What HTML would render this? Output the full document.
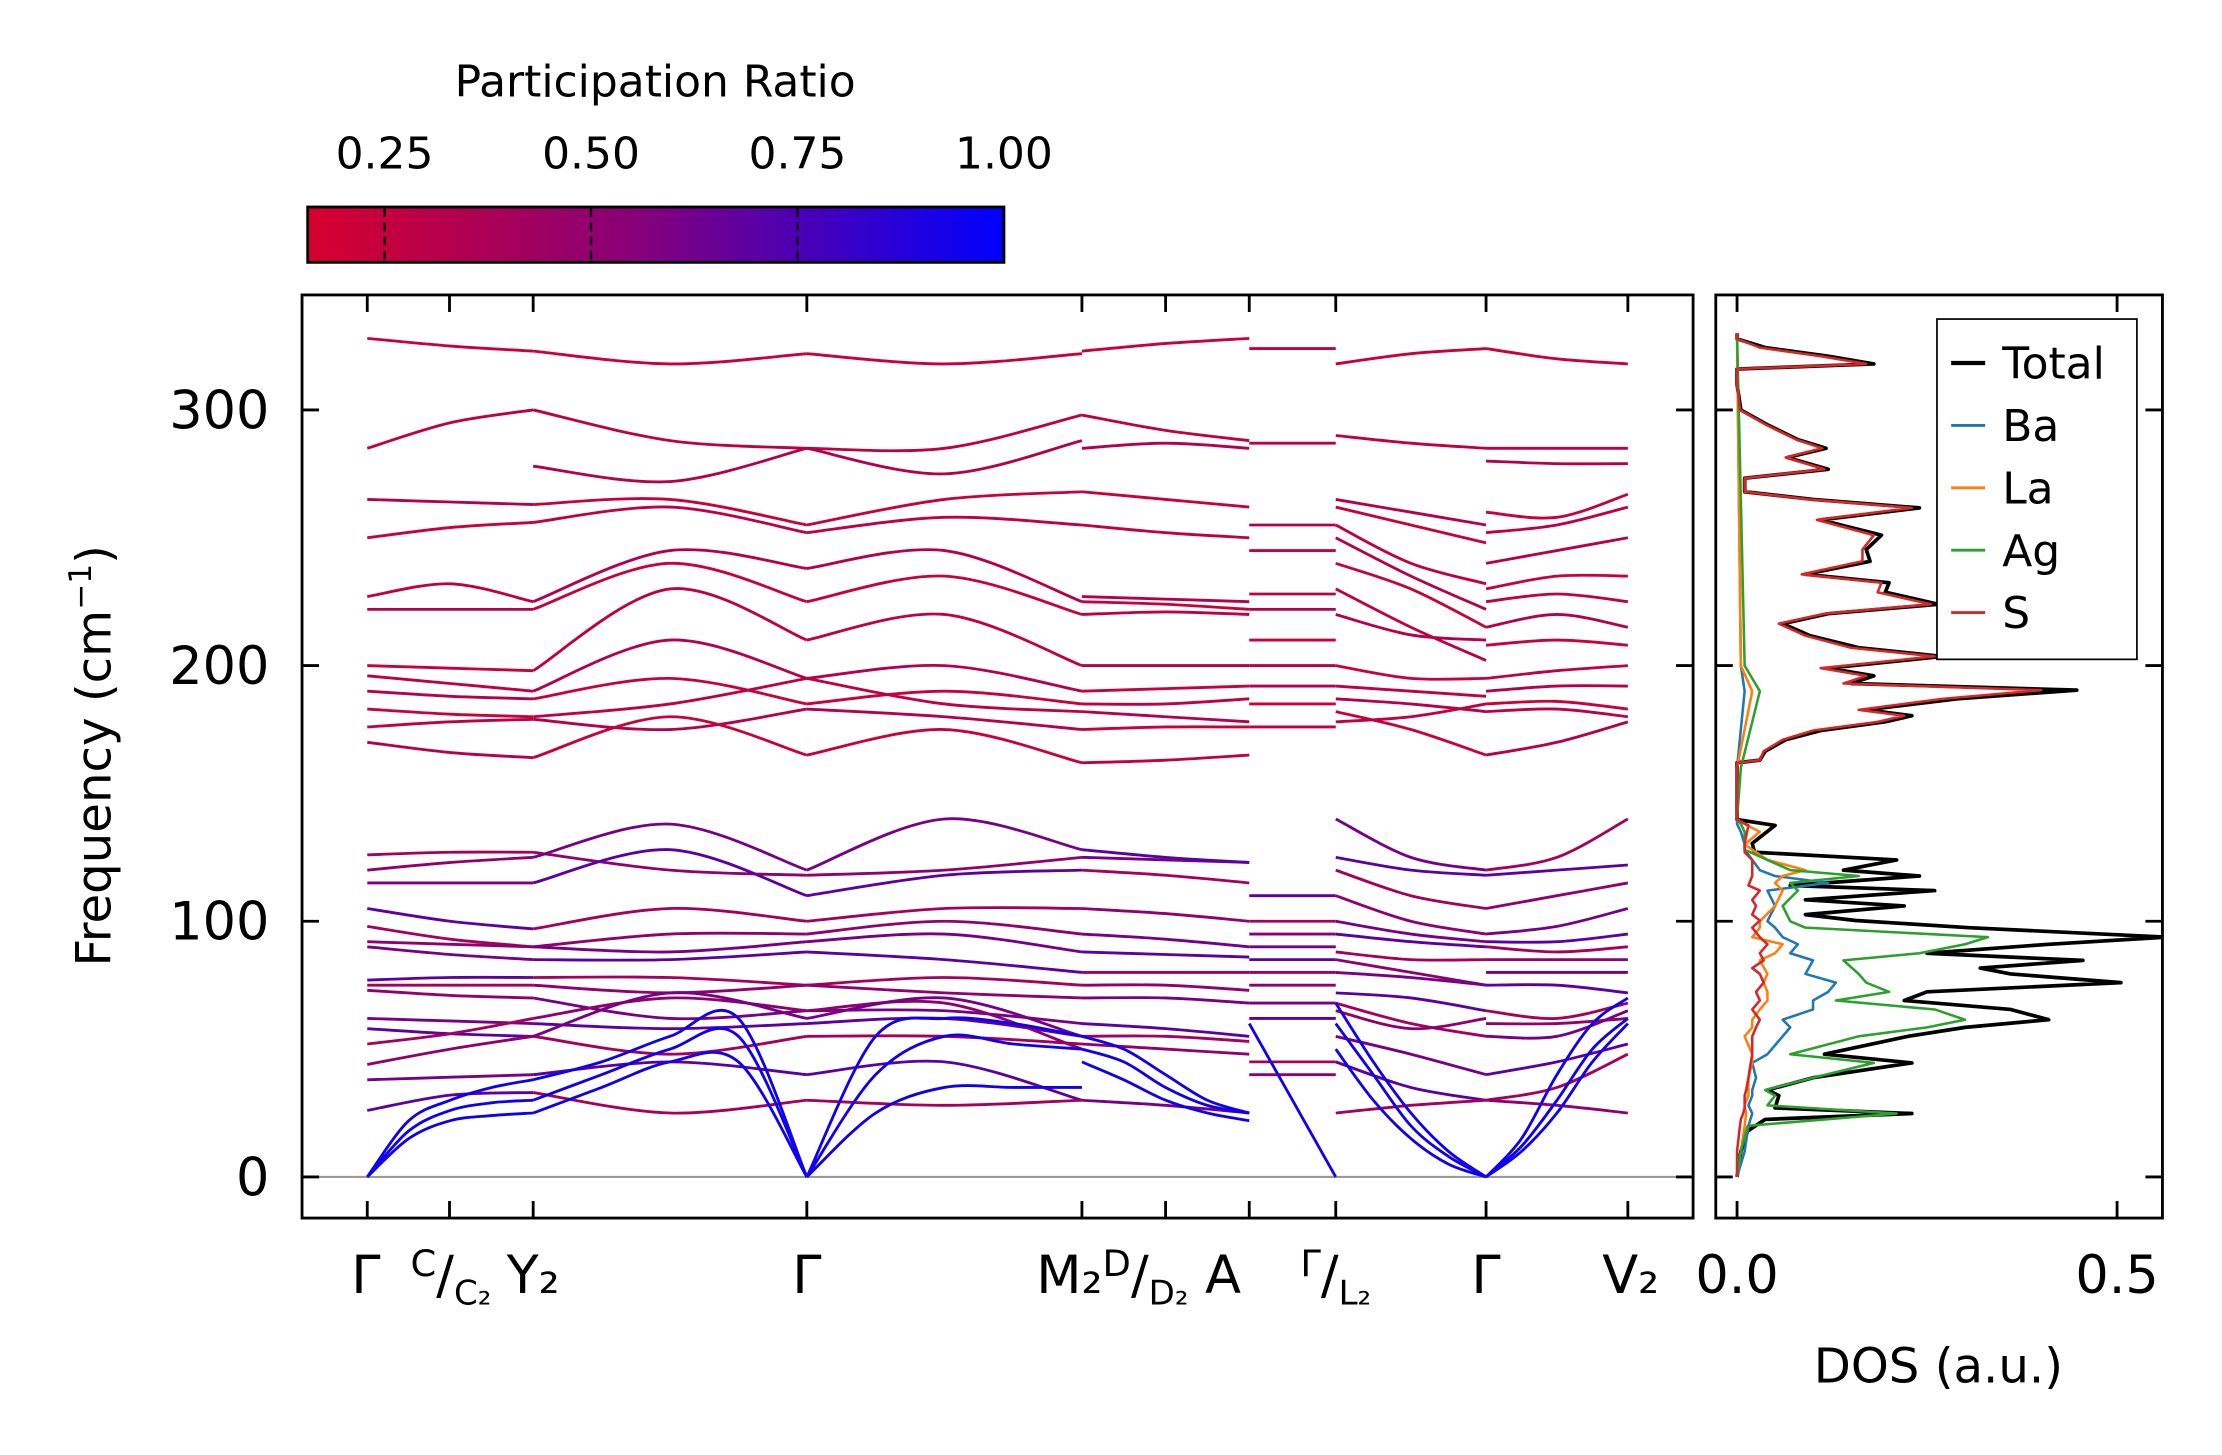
<!DOCTYPE html>
<html><head><meta charset="utf-8"><style>
html,body{margin:0;padding:0;background:#fff}
svg{display:block;font-family:"DejaVu Sans","Liberation Sans",sans-serif}
</style></head><body>
<svg id="fig" width="2222" height="1455" viewBox="0 0 1567 1026.1" xmlns="http://www.w3.org/2000/svg">
<defs>
<linearGradient id="cmap" x1="0" x2="1" y1="0" y2="0">
<stop offset="0" stop-color="rgb(215,0,45)"/>
<stop offset="0.47" stop-color="rgb(135,0,120)"/>
<stop offset="1" stop-color="rgb(0,0,255)"/>
</linearGradient>
<clipPath id="mainclip"><rect x="213" y="208" width="981" height="651"/></clipPath>
<clipPath id="dosclip"><rect x="1210" y="208" width="315" height="651"/></clipPath>
</defs>
<g id="colorbar">
<text x="462" y="68" font-size="31" text-anchor="middle">Participation Ratio</text>
<rect x="217" y="146" width="491" height="39" fill="url(#cmap)" stroke="#000" stroke-width="2"/>
</g>
<g id="main">
<line x1="213" x2="1194" y1="830" y2="830" stroke="#999" stroke-width="1.5"/>
<g id="bands" clip-path="url(#mainclip)"></g>
<rect x="213" y="208" width="981" height="651" fill="none" stroke="#000" stroke-width="2"/>
<text transform="translate(78,533) rotate(-90)" font-size="34" text-anchor="middle">Frequency (cm<tspan font-size="22" dy="-14">−1</tspan><tspan dy="14">)</tspan></text>
</g>
<g id="dos">
<g id="doslines" clip-path="url(#dosclip)"></g>
<rect x="1210" y="208" width="315" height="651" fill="none" stroke="#000" stroke-width="2"/>
<text x="1367" y="975" font-size="34" text-anchor="middle">DOS (a.u.)</text>
<g>
<rect x="1366" y="225" width="141" height="240" fill="#fff" stroke="#000" stroke-width="1.2"/>
</g>
</g>
<g id="ticks"></g>
</svg>
<script>
const NS='http://www.w3.org/2000/svg';
// ---- band structure data ----
const kLabels=['Γ','C/C2','Y2','Γ','M2|D/D2','A','Γ/L2','Γ','V2'];
const kTickPos=[0,58,117,310,504,563,622,683,789,889];
const segStart=[0,117,310,504,622,683,789];
const segEnd=[117,310,504,622,683,789,889];
const yTicks=[0,100,200,300];
const bandsGY=[[328,325,323],[285,295,300],[265,264,263],[250,254,256],[227,232,225],[222,222,222],[200,199,198],[196,193,190],[190,188,187],[183,181,180],[176,178,179],[170,166,164],[126,127,127],[120,123,125],[115,115,115],[105,100,97],[98,93,90],[92,91,90],[90,87,85],[77,78,78],[75,75,75],[73,71,70],[62,61,60],[58,56,55],[52,56,62],[44,50,55],[38,39,40],[26,32,33]];
const acGY=[[0,22,30,35,38],[0,18,26,29,30],[0,15,22,24,25]];
const bandsYG=[[323,318,322],[300,288,285],[278,272,285],[263,265,255],[256,262,252],[225,245,238],[222,240,225],[198,230,210],[190,210,195],[187,195,185],[180,185,195],[179,175,183],[164,180,165],[127,120,118],[125,138,120],[115,128,110],[97,105,100],[90,95,95],[90,88,92],[85,85,88],[78,78,75],[75,72,75],[70,62,65],[60,58,60],[55,48,55],[62,70,65],[55,72,62],[40,45,40],[33,25,30]];
const acYG=[[38,45,55,62,0],[30,40,50,55,0],[25,35,45,45,0]];
const bandsGM=[[322,318,322],[285,285,298],[285,275,288],[255,265,268],[252,258,255],[238,245,225],[225,235,220],[210,220,200],[195,200,190],[185,190,185],[195,185,182],[183,180,175],[165,175,162],[118,120,125],[120,140,128],[110,118,120],[100,105,105],[95,100,95],[92,95,88],[88,85,80],[75,78,75],[75,72,70],[65,65,60],[60,62,55],[55,55,52],[65,68,50],[62,70,55],[40,45,30],[30,28,30]];
const acGM=[[0,55,62,60,55],[0,40,55,52,50],[0,25,35,35,35]];
const bandsDA=[[323,326,328],[298,292,288],[285,287,285],[268,265,262],[255,252,250],[227,226,225],[225,224,222],[220,221,220],[200,200,200],[190,191,192],[185,185,187],[182,180,178],[175,176,176],[162,163,165],[125,124,123],[128,125,123],[120,118,115],[105,103,100],[95,93,90],[88,87,86],[80,80,80],[75,75,73],[70,70,68],[60,58,55],[55,55,53],[52,50,48],[30,28,25]];
const acDA=[[50,45,35,28,25],[45,38,30,25,22],[55,50,40,30,25]];
const bandsAL=[[324,324,324],[287,287,287],[255,255,255],[245,245,245],[228,228,228],[222,222,222],[210,210,210],[200,200,200],[192,192,192],[185,185,185],[176,176,176],[110,110,110],[100,100,100],[95,95,95],[90,90,90],[85,85,85],[80,80,80],[75,75,75],[68,68,68],[62,62,62],[45,45,45],[40,40,40]];
const acAL=[[60,45,30,15,0]];
const bandsLG=[[318,322,324],[290,287,285],[265,260,255],[262,255,248],[255,240,232],[250,235,222],[240,230,215],[230,215,202],[220,212,210],[200,195,195],[192,190,188],[187,185,182],[182,175,165],[178,180,185],[140,125,120],[125,120,118],[120,110,105],[110,100,95],[100,95,92],[95,92,90],[88,85,85],[85,80,75],[80,78,75],[72,70,65],[68,60,55],[65,58,62],[55,48,40],[45,35,30],[25,28,30]];
const acLG=[[68,45,25,10,0],[60,40,20,8,0],[50,30,15,5,0]];
const bandsGV=[[324,320,318],[285,285,285],[280,279,279],[260,258,267],[252,255,262],[240,245,250],[230,235,235],[225,228,225],[215,220,215],[208,210,208],[195,198,200],[190,192,192],[185,186,183],[182,183,180],[165,170,178],[118,120,122],[120,125,140],[105,110,115],[95,98,105],[92,92,95],[90,88,90],[85,85,85],[80,80,80],[75,75,72],[65,62,68],[60,60,62],[55,55,65],[40,45,52],[30,35,48],[30,28,25]];
const acGV=[[0,15,40,60,70],[0,12,30,50,62],[0,10,25,45,60]];
const optSets=[bandsGY,bandsYG,bandsGM,bandsDA,bandsAL,bandsLG,bandsGV];
const acSets=[acGY,acYG,acGM,acDA,acAL,acLG,acGV];
// ---- DOS data ----
const dosFreqFine=[0,10,18,22.5,24.8,27,31.8,34,38.8,44.6,48,55,58.5,61.5,65.5,69,72.4,76,79.4,81.7,84.7,87.5,91,93.8,97.5,100.3,102.6,106,108.4,112,114,117.7,120,124,127,130.5,137.5,139.8,150,162,163,166.5,171,174.6,178,180.4,182.7,187,190.4,193,196,199,203.6,207,211.7,216.4,220.3,224,228.7,232.4,235.7,240.8,245.4,251,257,261.7,265,268,273.3,276.8,281.4,285,288.4,294.2,300,310,316,318,321,324.4,327.8,330];
const dosTotal=[0,0.005,0.014,0.037,0.23,0.05,0.055,0.04,0.1,0.23,0.115,0.225,0.3,0.41,0.36,0.22,0.25,0.505,0.36,0.32,0.455,0.25,0.41,0.565,0.305,0.156,0.09,0.22,0.09,0.26,0.07,0.24,0.14,0.21,0.023,0.02,0.05,0,0,0,0.03,0.037,0.064,0.11,0.195,0.23,0.17,0.29,0.447,0.15,0.18,0.12,0.27,0.16,0.096,0.06,0.12,0.265,0.195,0.2,0.09,0.175,0.17,0.19,0.11,0.24,0.1,0.01,0.01,0.12,0.066,0.117,0.08,0.04,0.005,0,0,0.18,0.12,0.037,0,0];
const dosS=[0,0,0.003,0.005,0.008,0.01,0.01,0.012,0.015,0.018,0.02,0.02,0.025,0.03,0.02,0.03,0.025,0.035,0.03,0.02,0.035,0.03,0.04,0.03,0.02,0.03,0.02,0.025,0.02,0.03,0.015,0.02,0.02,0.02,0.01,0.01,0.015,0,0,0,0.03,0.035,0.06,0.1,0.185,0.22,0.16,0.27,0.4,0.14,0.17,0.11,0.26,0.15,0.09,0.055,0.115,0.255,0.185,0.19,0.085,0.165,0.165,0.18,0.105,0.23,0.095,0.01,0.01,0.115,0.064,0.112,0.078,0.038,0.004,0,0,0.17,0.11,0.03,0,0];
const dosFreqLow=[0,10,20,24.8,28,31.8,34,38.8,44.6,48,55,58.5,61.5,65.5,69,72.4,76,79.4,84.7,87.5,91,93.8,97.5,100,106,112,115,117.7,120,124,128,130,135,138,140,160,190,200,330];
const dosBa=[0,0.01,0.015,0.02,0.015,0.02,0.02,0.025,0.02,0.04,0.06,0.07,0.06,0.1,0.1,0.12,0.13,0.09,0.1,0.07,0.08,0.06,0.05,0.04,0.05,0.04,0.12,0.05,0.03,0.02,0.01,0.01,0.005,0,0,0,0.01,0.005,0];
const dosLa=[0,0.005,0.01,0.012,0.01,0.015,0.015,0.015,0.02,0.02,0.01,0.02,0.02,0.03,0.04,0.04,0.035,0.04,0.03,0.05,0.06,0.02,0.03,0.03,0.05,0.06,0.05,0.06,0.09,0.04,0.02,0.01,0.03,0.01,0,0,0.02,0.005,0];
const dosAg=[0,0.005,0.014,0.21,0.04,0.05,0.037,0.1,0.18,0.07,0.16,0.25,0.3,0.26,0.13,0.2,0.17,0.16,0.14,0.24,0.3,0.33,0.09,0.07,0.06,0.08,0.07,0.16,0.07,0.04,0.01,0.01,0.01,0.005,0,0.005,0.03,0.01,0];
const dosNames=['Total','Ba','La','Ag','S'];
const dosColors=['#000','#1f77b4','#ff7f0e','#2ca02c','#d62728'];
// ---- colorbar ----
const cbTicks=[0.25,0.5,0.75,1.0];
const cbMin=0.157,cbMax=1.0;

const kx=k=>259+k;
const fy=f=>830-f*1.803;
const dx=v=>1225+v*536;
const cbx=v=>217+(v-cbMin)/(cbMax-cbMin)*491;
function cmap(t){
  const s=[[0.157,[215,0,45]],[0.55,[135,0,120]],[1.0,[0,0,255]]];
  t=Math.max(0.157,Math.min(1,t));
  for(let i=0;i<s.length-1;i++){if(t<=s[i+1][0]){const a=(t-s[i][0])/(s[i+1][0]-s[i][0]);const c=s[i][1].map((v,j)=>Math.round(v+(s[i+1][1][j]-v)*a));return `rgb(${c})`;}}
  return 'rgb(0,0,255)';
}
function smoothPath(pts){
  let d=`M${pts[0][0]},${pts[0][1]}`;
  for(let i=0;i<pts.length-1;i++){
    const p0=pts[Math.max(0,i-1)],p1=pts[i],p2=pts[i+1],p3=pts[Math.min(pts.length-1,i+2)];
    const c1=[p1[0]+(p2[0]-p0[0])/6,p1[1]+(p2[1]-p0[1])/6];
    const c2=[p2[0]-(p3[0]-p1[0])/6,p2[1]-(p3[1]-p1[1])/6];
    d+=` C${c1[0]},${c1[1]} ${c2[0]},${c2[1]} ${p2[0]},${p2[1]}`;
  }
  return d;
}
function bandPts(x0,x1,vals){const n=vals.length-1;return vals.map((v,i)=>[x0+(x1-x0)*i/n,fy(v)]);}
function mk(tag,attrs,parent){const e=document.createElementNS(NS,tag);for(const k in attrs)e.setAttribute(k,attrs[k]);parent.appendChild(e);return e;}
const bandsG=document.getElementById('bands');
optSets.forEach((set,si)=>{
  const x0=kx(segStart[si]),x1=kx(segEnd[si]);
  set.forEach((b,bi)=>{
    const pr=b[1]>150?0.22+0.05*(bi%3):0.4+0.1*(bi%4);
    const p=mk('path',{d:smoothPath(bandPts(x0,x1,b)),fill:'none',stroke:cmap(pr),'stroke-width':2},bandsG);
    
    
  });
  acSets[si].forEach(b=>{
    const p=mk('path',{d:smoothPath(bandPts(x0,x1,b)),fill:'none',stroke:cmap(0.95),'stroke-width':2},bandsG);
    
    
  });
});
const dosG=document.getElementById('doslines');
const series=[[dosFreqFine,dosTotal],[dosFreqLow,dosBa],[dosFreqLow,dosLa],[dosFreqLow,dosAg],[dosFreqFine,dosS]];
[0,1,2,3,4].forEach(i=>{
  const [fr,vals]=series[i];
  const pts=fr.map((f,j)=>`${dx(vals[j])},${fy(f)}`).join(' ');
  const pl=mk('polyline',{points:pts,fill:'none',stroke:dosColors[i],'stroke-width':i===0?2.6:1.8,'stroke-linejoin':'round'},dosG);
  
  
});
const svg=document.getElementById('fig');
dosNames.forEach((n,i)=>{
  const y=256+i*44;
  const g=mk('g',{},svg);
  
  
  mk('line',{x1:1376,x2:1400,y1:y,y2:y,stroke:dosColors[i],'stroke-width':i===0?3:2},g);
  const t=mk('text',{x:1412,y:y+11,'font-size':31},g);t.textContent=n;
});
const tk=document.getElementById('ticks');
yTicks.forEach(v=>{
  const y=fy(v);
  [[213,225],[1194,1182],[1210,1222],[1525,1513]].forEach(([a,b])=>mk('line',{x1:a,x2:b,y1:y,y2:y,stroke:'#000','stroke-width':2},tk));
  const t=mk('text',{x:190,y:y+13,'font-size':37,'text-anchor':'end'},tk);
  
  
  t.textContent=v;
});
kTickPos.forEach(k=>{
  const x=kx(k);
  mk('line',{x1:x,x2:x,y1:859,y2:847,stroke:'#000','stroke-width':2},tk);
  mk('line',{x1:x,x2:x,y1:208,y2:220,stroke:'#000','stroke-width':2},tk);
});
[0,0.5].forEach(v=>{
  const x=dx(v);
  mk('line',{x1:x,x2:x,y1:859,y2:847,stroke:'#000','stroke-width':2},tk);
  mk('line',{x1:x,x2:x,y1:208,y2:220,stroke:'#000','stroke-width':2},tk);
  const t=mk('text',{x:x,y:912,'font-size':37,'text-anchor':'middle'},tk);
  
  
  t.textContent=v.toFixed(1);
});
cbTicks.forEach(v=>{
  const x=cbx(v);
  if(v<1) mk('line',{x1:x,x2:x,y1:147,y2:184,stroke:'#000','stroke-width':1.6,'stroke-dasharray':'6,4'},tk);
  const t=mk('text',{x:x,y:119,'font-size':31,'text-anchor':'middle'},tk);
  
  
  t.textContent=v.toFixed(2);
});
const klab=[
 [258,'<tspan>Γ</tspan>'],
 [318,'<tspan font-size="26" dy="-12">C</tspan><tspan dy="12">/</tspan><tspan font-size="24" dy="8">C₂</tspan><tspan dy="-8"></tspan>'],
 [376,'Y<tspan font-size="37">₂</tspan>'],
 [569,'Γ'],
 [803,'M₂<tspan font-size="26" dy="-12">D</tspan><tspan dy="12">/</tspan><tspan font-size="24" dy="8">D₂</tspan><tspan dy="-8"> A</tspan>'],
 [942,'<tspan font-size="26" dy="-12">Γ</tspan><tspan dy="12">/</tspan><tspan font-size="24" dy="8">L₂</tspan>'],
 [1048,'Γ'],
 [1150,'V₂']];
klab.forEach(([x,h])=>{
  const t=mk('text',{x:x,y:912,'font-size':37,'text-anchor':'middle'},tk);
  
  
  t.innerHTML=h;
});
</script>
</body></html>
